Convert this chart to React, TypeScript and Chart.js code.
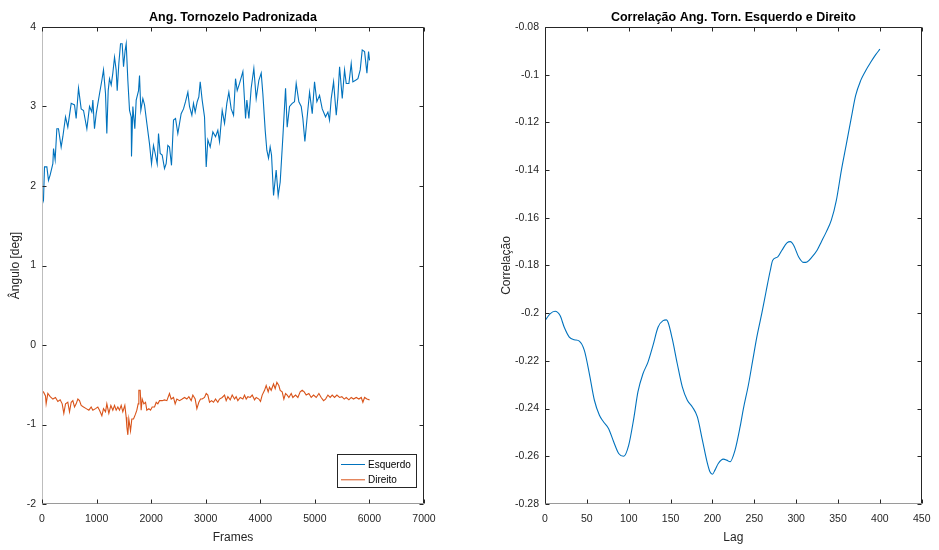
import React, { useEffect, useRef } from "react";
import { Chart, registerables } from "chart.js";

Chart.register(...registerables);

const FONT = '"Liberation Sans", Arial, Helvetica, sans-serif';
const BLUE = "#0072BD";
const ORANGE = "#D95319";

// ---- Left chart data (Ang. Tornozelo Padronizada) ----
const esqFrames = [0,27,46,89,119,150,199,211,241,272,302,351,382,431,473,535,596,626,669,718,761,822,871,913,932,962,993,1054,1097,1127,1164,1188,1213,1237,1268,1298,1329,1359,1378,1408,1439,1469,1494,1524,1543,1573,1604,1634,1640,1665,1701,1726,1769,1787,1811,1848,1879,1921,1970,2007,2043,2080,2111,2135,2166,2202,2245,2275,2306,2336,2373,2410,2447,2489,2550,2593,2630,2673,2703,2746,2776,2807,2844,2874,2899,2935,2978,3009,3039,3082,3131,3180,3222,3253,3302,3345,3387,3424,3467,3510,3546,3577,3620,3681,3730,3754,3791,3833,3882,3925,3974,4017,4047,4090,4120,4151,4181,4206,4243,4291,4328,4365,4414,4463,4493,4536,4585,4627,4658,4707,4750,4780,4817,4854,4903,4952,4994,5037,5086,5135,5196,5239,5269,5300,5343,5392,5422,5453,5502,5544,5575,5624,5666,5697,5746,5789,5831,5868,5911,5954,5984,6002];
const esqValues = [1.76,1.82,2.24,2.24,2.07,2.14,2.28,2.47,2.33,2.72,2.72,2.49,2.62,2.87,2.74,3.04,3.02,2.85,3.23,2.97,2.95,2.72,3.0,2.93,3.08,2.72,2.91,3.16,3.33,3.46,3.16,2.66,3.2,3.35,3.27,3.42,3.62,3.46,3.2,3.54,3.79,3.79,3.5,3.71,3.79,3.33,2.95,2.87,2.37,3.0,2.72,3.08,3.2,3.39,2.95,3.1,3.02,2.79,2.53,2.28,2.51,2.39,2.28,2.66,2.41,2.39,2.22,2.28,2.51,2.49,2.26,2.83,2.85,2.66,2.91,2.97,3.06,3.18,3.0,2.89,3.04,2.93,3.06,3.12,3.31,3.08,2.87,2.24,2.58,2.49,2.68,2.62,2.7,2.56,2.95,2.79,3.04,3.18,2.97,2.89,3.35,3.2,3.29,3.44,2.85,3.08,2.85,3.23,3.48,3.1,3.33,3.42,3.16,2.7,2.45,2.35,2.49,2.39,1.88,2.2,1.88,2.05,2.62,3.23,2.74,3.0,3.04,3.06,3.29,3.06,3.0,2.85,2.56,2.83,3.18,2.91,3.31,3.06,3.14,2.97,2.87,2.93,2.83,3.1,3.31,2.89,3.12,3.5,3.1,3.46,3.29,3.29,3.54,3.31,3.33,3.35,3.46,3.71,3.69,3.42,3.69,3.58];

const dirFrames = [3,27,64,76,107,150,199,247,290,333,370,400,431,473,504,535,565,596,626,657,687,718,761,810,859,901,932,981,1023,1054,1097,1127,1164,1188,1225,1262,1298,1329,1359,1390,1420,1451,1481,1518,1543,1555,1573,1591,1622,1646,1677,1713,1738,1762,1775,1799,1817,1836,1866,1897,1921,1958,1989,2019,2062,2093,2123,2154,2202,2245,2288,2336,2367,2410,2440,2471,2520,2569,2612,2654,2691,2734,2764,2807,2838,2874,2905,2935,2978,3009,3039,3070,3107,3143,3180,3222,3253,3302,3345,3375,3406,3449,3485,3528,3558,3589,3632,3681,3711,3742,3772,3815,3852,3895,3925,3974,4004,4035,4078,4108,4145,4169,4200,4243,4273,4304,4340,4365,4401,4432,4463,4493,4524,4567,4597,4646,4689,4731,4768,4805,4841,4890,4933,4976,5025,5074,5116,5159,5196,5239,5281,5318,5361,5404,5453,5495,5538,5575,5624,5666,5709,5758,5807,5850,5880,5911,5954,6002];
const dirValues = [-0.58,-0.59,-0.64,-0.74,-0.61,-0.65,-0.68,-0.66,-0.71,-0.69,-0.74,-0.86,-0.74,-0.72,-0.84,-0.72,-0.70,-0.78,-0.74,-0.68,-0.70,-0.76,-0.78,-0.80,-0.82,-0.78,-0.82,-0.80,-0.78,-0.82,-0.89,-0.80,-0.84,-0.74,-0.86,-0.76,-0.82,-0.76,-0.82,-0.78,-0.82,-0.76,-0.84,-0.76,-0.91,-1.03,-1.13,-0.93,-1.08,-0.93,-0.93,-0.87,-0.82,-0.74,-0.57,-0.57,-0.82,-0.68,-0.74,-0.72,-0.82,-0.80,-0.82,-0.78,-0.78,-0.72,-0.74,-0.70,-0.70,-0.69,-0.70,-0.61,-0.68,-0.66,-0.74,-0.68,-0.70,-0.68,-0.66,-0.68,-0.65,-0.70,-0.63,-0.68,-0.80,-0.72,-0.68,-0.68,-0.66,-0.61,-0.63,-0.72,-0.70,-0.72,-0.68,-0.72,-0.68,-0.66,-0.63,-0.70,-0.65,-0.69,-0.63,-0.68,-0.65,-0.70,-0.66,-0.68,-0.63,-0.68,-0.65,-0.66,-0.63,-0.69,-0.66,-0.68,-0.71,-0.63,-0.57,-0.51,-0.59,-0.53,-0.57,-0.49,-0.55,-0.47,-0.51,-0.57,-0.59,-0.68,-0.61,-0.63,-0.66,-0.61,-0.66,-0.63,-0.66,-0.59,-0.57,-0.59,-0.63,-0.61,-0.66,-0.63,-0.66,-0.61,-0.66,-0.70,-0.68,-0.63,-0.66,-0.63,-0.66,-0.63,-0.66,-0.65,-0.68,-0.66,-0.69,-0.66,-0.68,-0.66,-0.68,-0.66,-0.72,-0.66,-0.68,-0.69];

const frameTicks = [0, 1000, 2000, 3000, 4000, 5000, 6000, 7000];
const angleTicks = [-2, -1, 0, 1, 2, 3, 4];

// ---- Right chart data (Correlação) ----
const lags = [0,6,12,18,23,29,35,41,47,53,59,65,70,76,82,88,94,100,106,111,117,123,129,135,141,145,147,152,158,164,170,176,182,188,194,197,200,203,207,213,217,221,227,233,237,243,248,253,259,264,269,272,278,283,289,293,297,303,309,313,319,325,330,336,342,348,354,360,366,371,377,383,389,395,400];
const corrValues = [-0.2031,-0.2003,-0.1992,-0.201,-0.2059,-0.21,-0.2111,-0.2117,-0.2156,-0.2254,-0.2365,-0.2428,-0.2456,-0.2484,-0.2539,-0.2588,-0.26,-0.2553,-0.2442,-0.233,-0.2254,-0.2205,-0.2135,-0.2059,-0.2031,-0.2028,-0.2038,-0.2107,-0.2212,-0.2309,-0.2365,-0.2393,-0.2435,-0.2532,-0.263,-0.2665,-0.2675,-0.2658,-0.263,-0.2612,-0.2616,-0.2623,-0.2574,-0.2477,-0.24,-0.23,-0.22,-0.21,-0.2,-0.191,-0.1822,-0.1778,-0.1764,-0.1736,-0.1705,-0.17,-0.1715,-0.1764,-0.1787,-0.1785,-0.1764,-0.1736,-0.1701,-0.1659,-0.161,-0.1527,-0.1401,-0.129,-0.1178,-0.1088,-0.1025,-0.0983,-0.0948,-0.0916,-0.0893];

const lagTicks = [0, 50, 100, 150, 200, 250, 300, 350, 400, 450];
const corrTicks = [-0.28, -0.26, -0.24, -0.22, -0.2, -0.18, -0.16, -0.14, -0.12, -0.1, -0.08];

const toPoints = (xs: number[], ys: number[]) =>
  xs.map((x, i) => ({ x, y: ys[i] }));

// MATLAB-like box with inward ticks + titles + optional legend
const matlabPlugin = {
  id: "matlabDecor",
  afterDraw(chart: any, _args: any, opts: any) {
    const { ctx, chartArea: a, scales } = chart;
    const L = Math.round(a.left) + 0.5;
    const R = Math.round(a.right) - 0.5;
    const T = Math.round(a.top) + 0.5;
    const B = Math.round(a.bottom) - 0.5;
    ctx.save();
    ctx.lineWidth = 1;
    // box
    ctx.strokeStyle = "#262626";
    ctx.beginPath();
    ctx.moveTo(L, T); ctx.lineTo(R, T); ctx.lineTo(R, B);
    ctx.stroke();
    ctx.strokeStyle = opts.bottomColor;
    ctx.beginPath(); ctx.moveTo(L, B); ctx.lineTo(R, B); ctx.stroke();
    ctx.strokeStyle = opts.leftColor;
    ctx.beginPath(); ctx.moveTo(L, T); ctx.lineTo(L, B); ctx.stroke();
    // ticks
    ctx.strokeStyle = "#262626";
    const tl = 4;
    ctx.beginPath();
    scales.x.ticks.forEach((t: any) => {
      const px = Math.round(scales.x.getPixelForValue(t.value)) + 0.5;
      ctx.moveTo(px, B); ctx.lineTo(px, B - tl);
      ctx.moveTo(px, T); ctx.lineTo(px, T + tl);
    });
    scales.y.ticks.forEach((t: any) => {
      const py = Math.round(scales.y.getPixelForValue(t.value)) + 0.5;
      ctx.moveTo(L, py); ctx.lineTo(L + tl, py);
      ctx.moveTo(R, py); ctx.lineTo(R - tl, py);
    });
    ctx.stroke();
    // titles
    const cx = (a.left + a.right) / 2;
    ctx.fillStyle = "#000";
    ctx.textAlign = "center";
    ctx.textBaseline = "alphabetic";
    ctx.font = `bold 12.5px ${FONT}`;
    ctx.fillText(opts.title, cx, 20.5);
    ctx.fillStyle = "#262626";
    ctx.font = `12px ${FONT}`;
    ctx.fillText(opts.xLabel, cx, 540.5);
    ctx.save();
    ctx.translate(opts.yLabelX, (a.top + a.bottom) / 2);
    ctx.rotate(-Math.PI / 2);
    ctx.fillText(opts.yLabel, 0, 0);
    ctx.restore();
    // legend
    if (opts.legend) {
      const lg = opts.legend;
      ctx.fillStyle = "#fff";
      ctx.fillRect(lg.x, lg.y, lg.w, lg.h);
      ctx.strokeStyle = "#262626";
      ctx.strokeRect(lg.x + 0.5, lg.y + 0.5, lg.w - 1, lg.h - 1);
      ctx.font = `10px ${FONT}`;
      ctx.textAlign = "left";
      lg.items.forEach((it: any, i: number) => {
        const yy = lg.y + 10.5 + i * 15.3;
        ctx.strokeStyle = it.color;
        ctx.beginPath();
        ctx.moveTo(lg.x + 4, yy); ctx.lineTo(lg.x + 28, yy);
        ctx.stroke();
        ctx.fillStyle = "#000";
        ctx.fillText(it.label, lg.x + 31, yy + 3.5);
      });
    }
    ctx.restore();
  },
};

const tickFont = { family: FONT, size: 10.5 };

function axisX(min: number, max: number, ticks: number[], height: number) {
  return {
    type: "linear" as const,
    min,
    max,
    grid: { display: false, drawTicks: false },
    border: { display: false },
    afterBuildTicks: (s: any) => { s.ticks = ticks.map((value) => ({ value })); },
    afterFit: (s: any) => { s.height = height; },
    ticks: {
      autoSkip: false,
      maxRotation: 0,
      padding: 8.5,
      color: "#262626",
      font: tickFont,
      callback: (v: any) => String(Number(Number(v).toFixed(2))),
    },
  };
}

function axisY(min: number, max: number, ticks: number[], width: number) {
  return {
    type: "linear" as const,
    min,
    max,
    grid: { display: false, drawTicks: false },
    border: { display: false },
    afterBuildTicks: (s: any) => { s.ticks = ticks.map((value) => ({ value })); },
    afterFit: (s: any) => { s.width = width; },
    ticks: {
      autoSkip: false,
      padding: 6,
      color: "#262626",
      font: tickFont,
      callback: (v: any) => String(Number(Number(v).toFixed(2))),
    },
  };
}

export default function App() {
  const ref1 = useRef<HTMLCanvasElement>(null);
  const ref2 = useRef<HTMLCanvasElement>(null);

  useEffect(() => {
    const c1 = new Chart(ref1.current as HTMLCanvasElement, {
      type: "line",
      data: {
        datasets: [
          {
            label: "Esquerdo",
            data: toPoints(esqFrames, esqValues),
            borderColor: BLUE,
            borderWidth: 1.1,
            pointRadius: 0,
            tension: 0,
          },
          {
            label: "Direito",
            data: toPoints(dirFrames, dirValues),
            borderColor: ORANGE,
            borderWidth: 1.1,
            pointRadius: 0,
            tension: 0,
          },
        ],
      },
      options: {
        responsive: false,
        animation: false,
        events: [],
        layout: { padding: { left: 0, right: 46, top: 27, bottom: 0 } },
        plugins: {
          legend: { display: false },
          title: { display: false },
          tooltip: { enabled: false },
          matlabDecor: {
            title: "Ang. Tornozelo Padronizada",
            xLabel: "Frames",
            yLabel: "Ângulo [deg]",
            yLabelX: 19,
            leftColor: "#bdbdbd",
            bottomColor: "#9a9a9a",
            legend: {
              x: 337, y: 454, w: 80, h: 34,
              items: [
                { label: "Esquerdo", color: BLUE },
                { label: "Direito", color: ORANGE },
              ],
            },
          },
        } as any,
        scales: {
          x: axisX(0, 7000, frameTicks, 46),
          y: axisY(-2, 4, angleTicks, 42),
        } as any,
      },
      plugins: [matlabPlugin],
    });

    const c2 = new Chart(ref2.current as HTMLCanvasElement, {
      type: "line",
      data: {
        datasets: [
          {
            label: "Correlação",
            data: toPoints(lags, corrValues),
            borderColor: BLUE,
            borderWidth: 1.1,
            pointRadius: 0,
            cubicInterpolationMode: "monotone",
          },
        ],
      },
      options: {
        responsive: false,
        animation: false,
        events: [],
        layout: { padding: { left: 0, right: 11, top: 27, bottom: 0 } },
        plugins: {
          legend: { display: false },
          title: { display: false },
          tooltip: { enabled: false },
          matlabDecor: {
            title: "Correlação Ang. Torn. Esquerdo e Direito",
            xLabel: "Lag",
            yLabel: "Correlação",
            yLabelX: 39.5,
            leftColor: "#262626",
            bottomColor: "#9a9a9a",
          },
        } as any,
        scales: {
          x: axisX(0, 450, lagTicks, 46),
          y: axisY(-0.28, -0.08, corrTicks, 75),
        } as any,
      },
      plugins: [matlabPlugin],
    });

    return () => {
      c1.destroy();
      c2.destroy();
    };
  }, []);

  return (
    <div style={{ position: "fixed", left: 0, top: 0, width: 939, height: 550, background: "#fff" }}>
      <canvas ref={ref1} width={470} height={550} style={{ position: "absolute", left: 0, top: 0 }} />
      <canvas ref={ref2} width={469} height={550} style={{ position: "absolute", left: 470, top: 0 }} />
    </div>
  );
}
